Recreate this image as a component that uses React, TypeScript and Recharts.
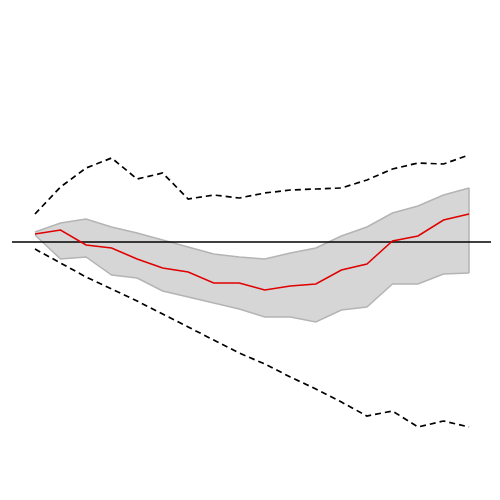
import { ComposedChart, Area, Line, XAxis, YAxis, ReferenceLine } from "recharts";

const steps = [0, 1, 2, 3, 4, 5, 6, 7, 8, 9, 10, 11, 12, 13, 14, 15, 16, 17];

const median = [
  0.08, 0.12, -0.03, -0.06, -0.17, -0.26, -0.3, -0.41, -0.41, -0.48, -0.44,
  -0.42, -0.28, -0.22, 0.01, 0.06, 0.22, 0.28,
];

const bandHigh = [
  0.1, 0.19, 0.23, 0.15, 0.09, 0.02, -0.05, -0.12, -0.15, -0.17, -0.11, -0.06,
  0.06, 0.15, 0.29, 0.36, 0.47, 0.54,
];

const bandLow = [
  0.07, -0.17, -0.15, -0.33, -0.36, -0.49, -0.55, -0.61, -0.67, -0.75, -0.75,
  -0.8, -0.68, -0.65, -0.42, -0.42, -0.32, -0.31,
];

const outerHigh = [
  0.28, 0.55, 0.74, 0.84, 0.63, 0.69, 0.43, 0.47, 0.44, 0.49, 0.52, 0.53,
  0.54, 0.62, 0.73, 0.79, 0.78, 0.87,
];

const outerLow = [
  -0.07, -0.21, -0.35, -0.47, -0.59, -0.72, -0.85, -0.98, -1.11, -1.22, -1.35,
  -1.47, -1.6, -1.74, -1.69, -1.85, -1.79, -1.85,
];

const data = steps.map((s, i) => ({
  step: s,
  median: median[i],
  band: [bandLow[i], bandHigh[i]],
  outerHigh: outerHigh[i],
  outerLow: outerLow[i],
}));

const last = steps.length - 1;

export default function App() {
  return (
    <div style={{ position: "absolute", left: 0, top: 0 }}>
      <ComposedChart
        width={500}
        height={500}
        data={data}
        margin={{ top: 0, right: 9, left: 12, bottom: 0 }}
      >
        <XAxis
          dataKey="step"
          type="number"
          domain={[-0.9, 17.86]}
          hide
        />
        <YAxis type="number" domain={[-2.58, 2.42]} hide />
        <Area
          dataKey="band"
          type="linear"
          fill="#d6d6d6"
          fillOpacity={1}
          stroke="#b4b4b4"
          strokeWidth={1.5}
          isAnimationActive={false}
        />
        {/* closing edge of the band on the right */}
        <ReferenceLine
          segment={[
            { x: steps[last], y: bandLow[last] },
            { x: steps[last], y: bandHigh[last] },
          ]}
          stroke="#b4b4b4"
          strokeWidth={1.5}
        />
        <ReferenceLine y={0} stroke="#000" strokeWidth={1.5} />
        <Line
          dataKey="outerHigh"
          type="linear"
          stroke="#000"
          strokeWidth={1.7}
          strokeDasharray="6 4"
          dot={false}
          isAnimationActive={false}
        />
        <Line
          dataKey="outerLow"
          type="linear"
          stroke="#000"
          strokeWidth={1.7}
          strokeDasharray="6 4"
          dot={false}
          isAnimationActive={false}
        />
        <Line
          dataKey="median"
          type="linear"
          stroke="#e00000"
          strokeWidth={1.5}
          dot={false}
          isAnimationActive={false}
        />
      </ComposedChart>
    </div>
  );
}
